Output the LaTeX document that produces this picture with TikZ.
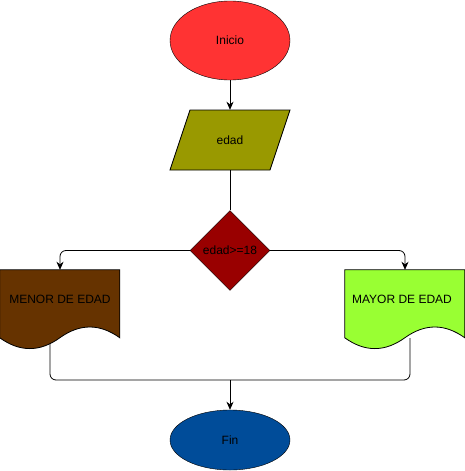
\documentclass[tikz,border=0pt]{standalone}
\usepackage{fontspec}
\setmainfont{Liberation Sans}
\usetikzlibrary{shapes.geometric,arrows.meta}
\definecolor{cInicio}{HTML}{FF3333}
\definecolor{cEdad}{HTML}{999900}
\definecolor{cDiam}{HTML}{990000}
\definecolor{cMenor}{HTML}{663300}
\definecolor{cMayor}{HTML}{99FF33}
\definecolor{cFin}{HTML}{004C99}
\begin{document}
\begin{tikzpicture}[x=1pt,y=-1pt,
  every node/.style={font=\fontsize{12}{14}\selectfont, inner sep=0pt},
  term/.style={ellipse, draw=black, minimum width=120pt},
  conn/.style={draw=black, line width=0.8pt, rounded corners=6pt},
  arr/.style={conn, -{Stealth[length=8pt,width=7pt,inset=2.5pt]}},
  docfill/.style={draw=black, line width=0.8pt}]
\useasboundingbox (0,0) rectangle (465,471);

% nodes
\node[term, fill=cInicio, minimum height=79pt] (inicio) at (230,40.5) {Inicio};
\node[minimum width=100pt, minimum height=60pt] (edad) at (230,140) {};
\fill[cEdad, draw=black, line width=0.8pt] (190,110) -- (290,110) -- (270,170) -- (170,170) -- cycle;
\node at (edad) {edad};
\node[diamond, aspect=1, draw=black, fill=cDiam, minimum width=80pt, minimum height=80pt] (dec) at (230,250.5) {edad>=18};
\node[minimum width=120pt, minimum height=80pt] (menor) at (60,310) {};
\node[minimum width=120pt, minimum height=80pt] (mayor) at (405,310) {};
\node[term, fill=cFin, minimum height=60pt] (fin) at (230,440) {Fin};

\coordinate (mb) at (50,342);
\coordinate (yb) at (410,338);
\coordinate (join) at (230,380);

% connectors
\draw[arr] (inicio.south) -- (edad.north);
\draw[conn] (edad.south) -- (dec.north);
\draw[arr] (dec.west) -| (menor.north);
\draw[arr] (dec.east) -| (mayor.north);
\draw[conn] (mb) |- (join) -| (yb);
\draw[arr] (join) -- (fin.north);

% document shapes
\foreach \n/\c in {menor/cMenor, mayor/cMayor}{
  \begin{scope}[shift={(\n.north west)}]
    \filldraw[docfill, fill=\c] (0,0) -- (120,0) -- (120,68)
      .. controls (100,53.6) and (80,53.6) .. (60,68)
      .. controls (40,82.4) and (20,82.4) .. (0,68) -- cycle;
  \end{scope}
}
\node at (60,299) {MENOR DE EDAD};
\node at (402,299) {MAYOR DE EDAD};
\end{tikzpicture}
\end{document}
